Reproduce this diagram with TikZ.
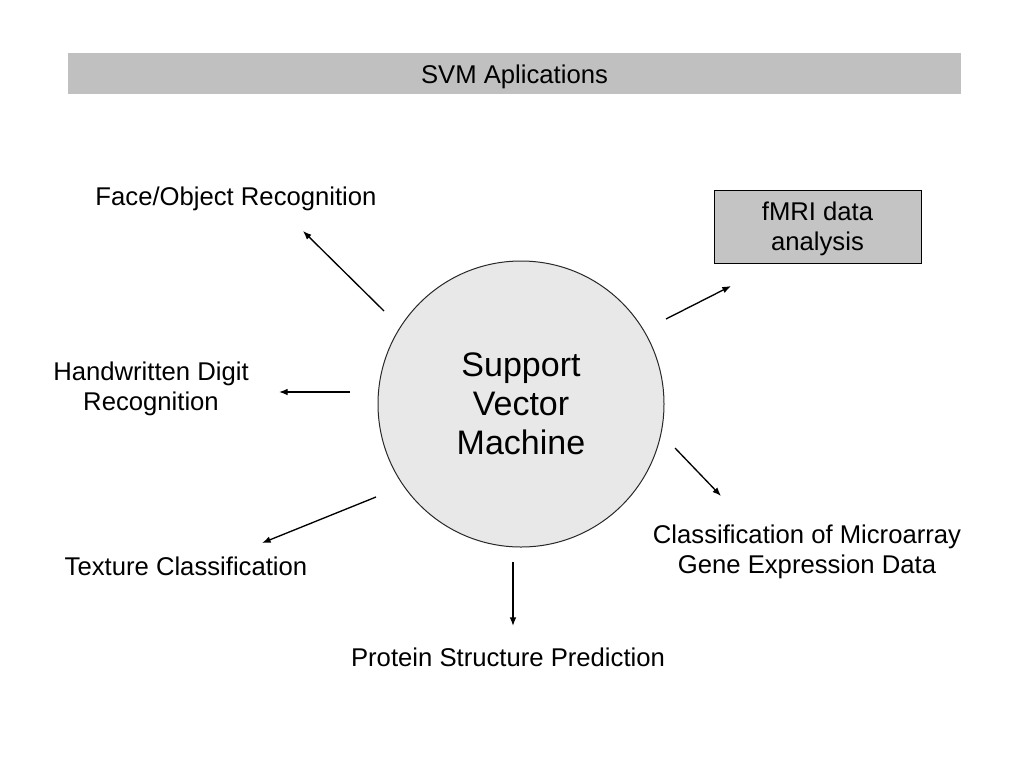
\documentclass[tikz,border=0pt]{standalone}
\usepackage{fontspec}
\setmainfont{Liberation Sans}
\usetikzlibrary{arrows.meta}

\tikzset{
  lbl/.style={align=center, inner sep=0pt, yshift=-2.25pt, font=\fontsize{19.25}{22.3}\selectfont},
  conn/.style={line width=1pt, -{Latex[length=6.5pt,width=5pt]}}
}

\begin{document}
\begin{tikzpicture}[x=0.75pt, y=-0.75pt]
  % canvas in pixels
  \useasboundingbox (0,0) rectangle (1024,768);

  % --- Title bar ---
  \node[fill={rgb,255:red,192;green,192;blue,192}, minimum width=669.75pt, minimum height=30.75pt,
        inner sep=0pt] (title) at (514.5,73.5) {};
  \node[lbl] at (title) {SVM Aplications};

  % --- Centre ---
  \node[circle, draw={rgb,255:red,40;green,40;blue,40}, line width=0.75pt,
        fill={rgb,255:red,232;green,232;blue,232}, minimum size=214.5pt, inner sep=0pt,
        align=center, font=\fontsize{25.5}{29.3}\selectfont] (svm) at (521,404) {Support\\Vector\\Machine};

  % --- Applications ---
  \node[lbl] (face) at (236,196) {Face/Object Recognition};
  \node[draw, line width=0.75pt, fill={rgb,255:red,196;green,196;blue,196}, inner sep=0pt,
        minimum width=155.25pt, minimum height=54.75pt] (fmri) at (817.5,226.5) {};
  \node[lbl, yshift=0.75pt] at (fmri) {fMRI data\\analysis};
  \node[lbl] (digit) at (151,386) {Handwritten Digit\\Recognition};
  \node[lbl] (micro) at (807,549) {Classification of Microarray\\Gene Expression Data};
  \node[lbl] (texture) at (186,563) {Texture Classification};
  \node[lbl] (protein) at (508,654) {Protein Structure Prediction};

  % --- Arrow ends ---
  \coordinate (faceS) at (384,311);    \coordinate (faceE) at (303,231);
  \coordinate (fmriS) at (666,319);    \coordinate (fmriE) at (731,286);
  \coordinate (digitS) at (350,392);   \coordinate (digitE) at (279,392);
  \coordinate (microS) at (675,448);   \coordinate (microE) at (721,496);
  \coordinate (textureS) at (376,497); \coordinate (textureE) at (262,543);
  \coordinate (proteinS) at (513,562); \coordinate (proteinE) at (513,626);

  \foreach \n in {face,fmri,digit,micro,texture,protein}
    \draw[conn] (\n S) -- (\n E);

\end{tikzpicture}
\end{document}
